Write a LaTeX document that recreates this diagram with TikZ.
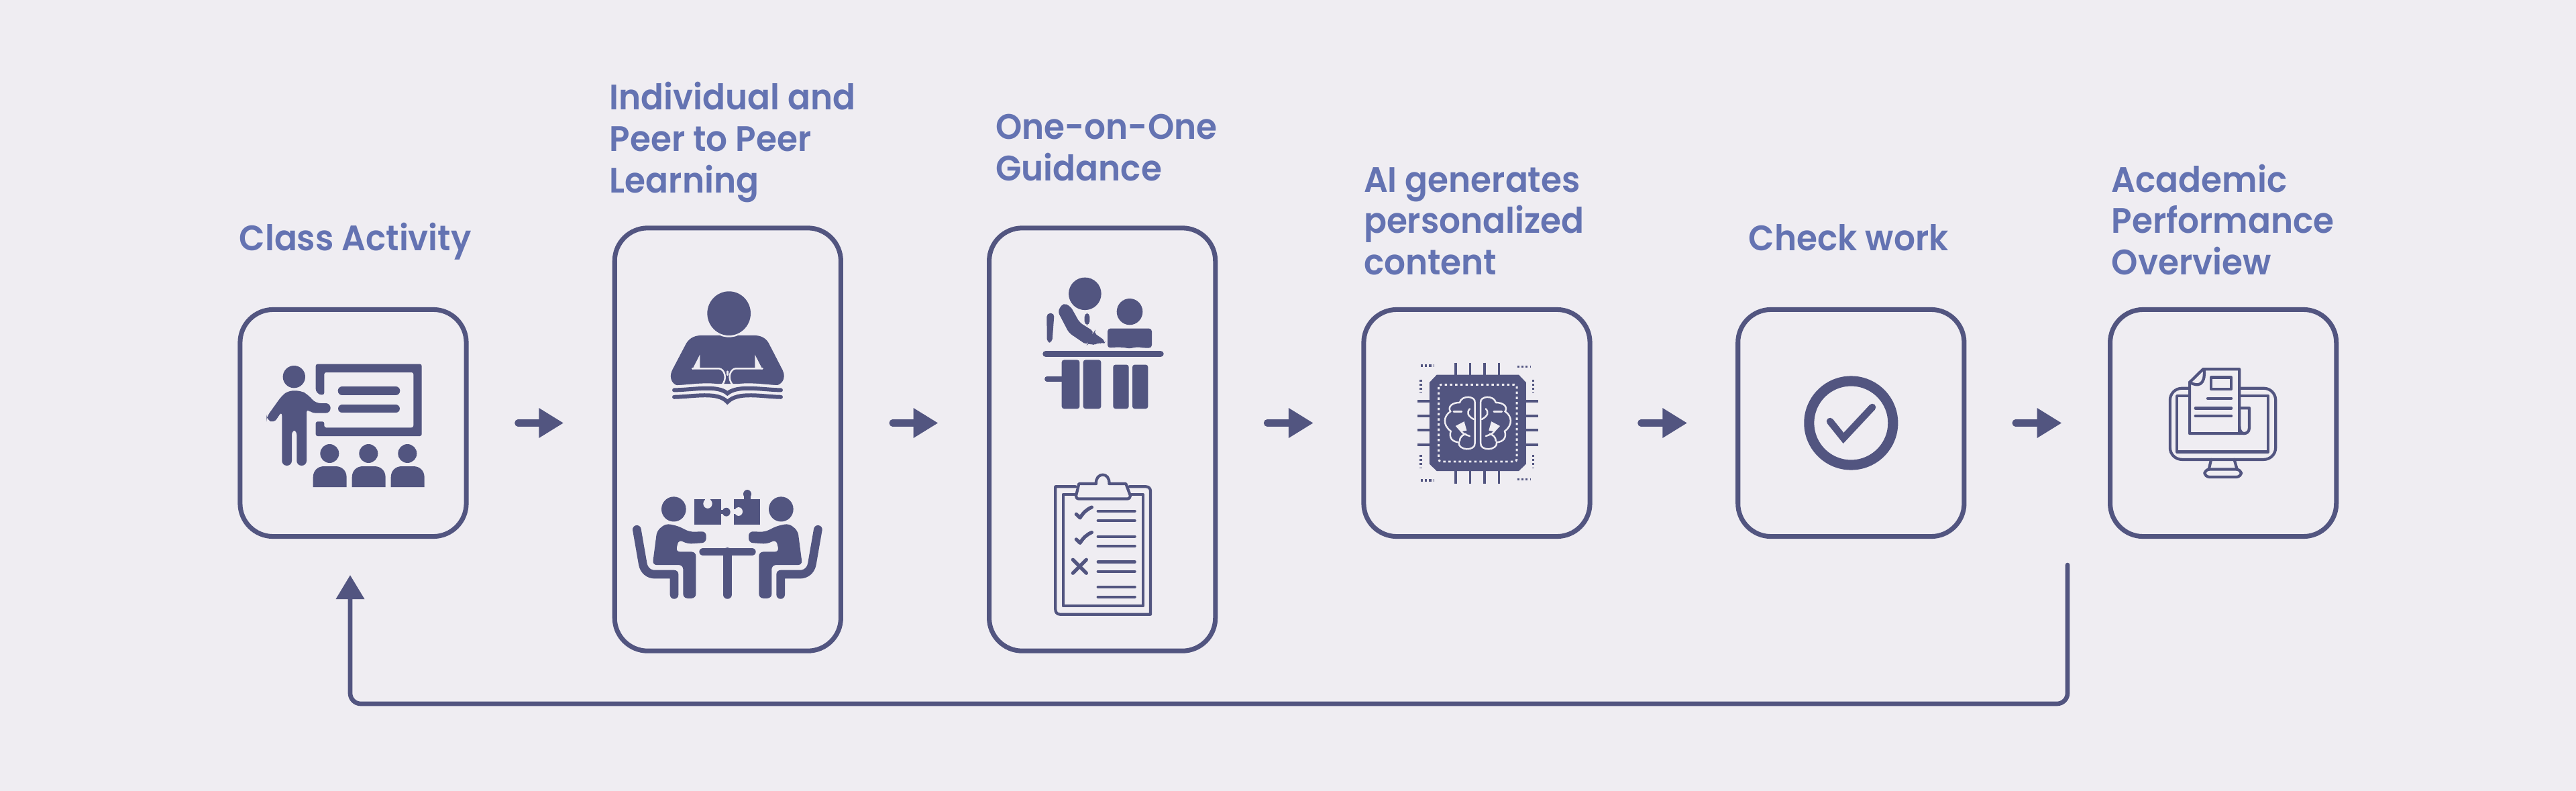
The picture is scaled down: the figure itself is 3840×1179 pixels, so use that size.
\documentclass[tikz,border=0pt]{standalone}
\usepackage{fontspec}
\setmainfont{Poppins}[UprightFont=* SemiBold, FakeStretch=0.95]
\usetikzlibrary{arrows.meta, positioning}
\definecolor{pagebg}{RGB}{239,237,242}
\definecolor{inkdark}{RGB}{82,85,128}
\definecolor{inktext}{RGB}{100,115,178}

\begin{document}
\begin{tikzpicture}[x=0.01cm, y=-0.01cm, node distance=5.58cm, >=Stealth,
    box/.style={rectangle, draw=inkdark, line width=2pt, rounded corners=14pt, minimum width=3.37cm, minimum height=3.38cm},
    tallbox/.style={box, minimum height=6.3cm},
    lbl/.style={anchor=base west, inner sep=0pt, align=left, text=inktext, font=\fontsize{15}{17.6}\selectfont},
    arrow/.style={-{Triangle[length=10.5pt, width=12pt]}, draw=inkdark, line width=2.85pt, line cap=round},
    backarrow/.style={-{Triangle[length=10.2pt, width=11.7pt]}, draw=inkdark, line width=1.9pt, line cap=round, rounded corners=4.5pt},
    solid ink/.style={fill=inkdark, draw=none},
    thin ink/.style={draw=inkdark, line width=1.2pt, line cap=round, line join=round},
    cut/.style={draw=pagebg, line width=0.7pt, line cap=round}]
  \fill[pagebg] (0,0) rectangle (3840,1179);

  % boxes
  \node[box] (cls) at (526.5,630.5) {};
  \node[tallbox, right of=cls, yshift=-0.245cm] (peer) {};
  \node[tallbox, right of=peer] (guide) {};
  \node[box, right of=guide, yshift=0.245cm] (ai) {};
  \node[box, right of=ai, xshift=-0.005cm] (chk) {};
  \node[box, right of=chk, xshift=-0.035cm] (perf) {};

  % labels
  \node[lbl] (lcls) at ([xshift=0.015cm, yshift=0.84cm]cls.north west) {Class Activity};
  \node[lbl] (lpeer) at ([xshift=-0.045cm, yshift=0.485cm]peer.north west) {Individual and\\Peer to Peer\\Learning};
  \node[lbl] (lguide) at ([xshift=0.125cm, yshift=0.665cm]guide.north west) {One-on-One\\Guidance};
  \node[lbl] (lai) at ([xshift=0.03cm, yshift=0.48cm]ai.north west) {AI generates\\personalized\\content};
  \node[lbl] (lchk) at ([xshift=0.19cm, yshift=0.84cm]chk.north west) {Check work};
  \node[lbl] (lperf) at ([xshift=0.05cm, yshift=0.48cm]perf.north west) {Academic\\Performance\\Overview};

  % connectors
  \draw[arrow, shorten <=0.735cm, shorten >=0.725cm] (cls.east) -- (cls.east -| peer.west);
  \draw[arrow, shorten <=0.735cm, shorten >=0.725cm] (peer.east |- cls.east) -- (guide.west |- cls.east);
  \draw[arrow, shorten <=0.735cm, shorten >=0.715cm] (guide.east |- cls.east) -- (ai.west);
  \draw[arrow, shorten <=0.725cm, shorten >=0.72cm] (ai.east) -- (chk.west);
  \draw[arrow, shorten <=0.73cm, shorten >=0.685cm] (chk.east) -- (perf.west);
  \coordinate (backstart) at (3082,842);
  \coordinate (backturn) at (3082,1049);
  \draw[backarrow, shorten >=0.54cm] (backstart) -- (backturn) -| ([xshift=-0.045cm]cls.south);

  % class icon
  \begin{scope}[shift={(320,420)}, scale=1/3]
    \fill[solid ink] (355,425) circle (50);
    \fill[solid ink, rounded corners=2pt] (232,605) -- (300,510) -- (330,487) -- (385,487) -- (415,503) -- (452,543) -- (518,543) -- (518,587) -- (430,587) -- (411,565) -- (411,822) -- (367,822) -- (367,662) -- (345,662) -- (345,822) -- (301,822) -- (301,578) -- (265,632) -- (232,615) -- cycle;
    \fill[solid ink, rounded corners=0.8pt] (452,368) -- (926,368) -- (926,690) -- (452,690) -- (452,625) -- (490,625) -- (490,652) -- (889,652) -- (889,405) -- (490,405) -- (490,505) -- (468,505) -- (452,488) -- cycle;
    \draw[inkdark, line width=3.6pt, line cap=round] (570,488) -- (810,488);
    \draw[inkdark, line width=3.4pt, line cap=round] (570,568) -- (810,568);
    \foreach \sx in {0,174,348} {
      \fill[solid ink] (514+\sx,768) circle (42);
      \fill[solid ink] (440+\sx,918) -- (440+\sx,875) .. controls (440+\sx,845) and (460+\sx,825) .. (490+\sx,825) -- (540+\sx,825) .. controls (570+\sx,825) and (590+\sx,845) .. (590+\sx,875) -- (590+\sx,918) -- cycle;
    }
  \end{scope}

  % reader icon
  \begin{scope}[shift={(900,400)}, xscale=1/3, yscale=1/2.8]
    \fill[solid ink] (560,188) circle (97 and 92);
    \fill[solid ink] (430,280) -- (520,280) .. controls (540,290) and (580,290) .. (600,280) -- (680,280) .. controls (710,282) and (730,295) .. (742,320) -- (800,425) .. controls (818,460) and (795,490) .. (760,490) -- (590,482) -- (520,482) -- (340,490) .. controls (310,490) and (288,460) .. (306,425) -- (365,320) .. controls (378,295) and (400,282) .. (430,280) -- cycle;
    \fill[pagebg] (430,360) -- (430,414) -- (396,422) -- cycle;
    \fill[pagebg] (676,360) -- (676,414) -- (710,422) -- cycle;
    \draw[cut] (396,418) -- (515,418) .. controls (540,420) and (555,460) .. (528,488);
    \draw[cut] (710,418) -- (590,418) .. controls (565,420) and (550,460) .. (578,488);
    \draw[cut] (553,445) -- (553,430);
    \draw[cut, line width=1pt] (310,494) .. controls (400,490) and (510,470) .. (553,505) .. controls (600,470) and (710,490) .. (795,494);
    \draw[inkdark, line width=1.7pt, line cap=round] (315,508) .. controls (400,507) and (510,485) .. (553,522) .. controls (600,485) and (710,507) .. (792,508);
    \draw[inkdark, line width=1.7pt, line cap=round] (315,537) .. controls (400,536) and (510,512) .. (553,558) .. controls (600,512) and (710,536) .. (792,537);
  \end{scope}

  % team icon
  \begin{scope}[shift={(900,400)}, xscale=1/3, yscale=1/2.8]
    \fill[solid ink] (405,962) rectangle (524,1070);
    \fill[pagebg] (465,982) circle (20 and 20);
    \fill[pagebg] (452,958) rectangle (478,975);
    \fill[solid ink] (548,1017) circle (18);
    \fill[solid ink] (520,1008) rectangle (540,1026);
    \fill[solid ink] (583,962) rectangle (700,1070);
    \fill[solid ink] (642,942) circle (18);
    \fill[solid ink] (628,950) rectangle (656,962);
    \fill[pagebg] (603,1015) circle (18);
    \fill[pagebg] (580,1006) rectangle (595,1024);
    \draw[inkdark, line width=3.4pt, line cap=round] (445,1183) -- (662,1183);
    \draw[inkdark, line width=3.6pt, line cap=round] (553,1183) -- (553,1362);
    \foreach \fl in {1,-1} {
      \begin{scope}[shift={(553,0)}, xscale=\fl]
        \fill[solid ink] (-240,1005) circle (55 and 52);
        \fill[solid ink, rounded corners=1.8pt] (-315,1095) -- (-275,1065) -- (-222,1075) -- (-168,1100) -- (-95,1098) -- (-95,1145) -- (-178,1150) -- (-218,1132) -- (-231,1183) -- (-141,1183) -- (-141,1377) -- (-198,1377) -- (-198,1238) -- (-335,1238) -- cycle;
        \draw[inkdark, line width=3.6pt, line cap=round, line join=round] (-405,1090) -- (-378,1235) .. controls (-372,1262) and (-350,1277) .. (-325,1277) -- (-238,1277) -- (-238,1362);
      \end{scope}
    }
  \end{scope}

  % tutor icon
  \begin{scope}[shift={(1460,380)}, xscale=1/3, yscale=1/2.8]
    \fill[solid ink] (472,162) circle (73 and 68);
    \fill[solid ink] (672,237) circle (58 and 55);
    \fill[solid ink, rounded corners=1.5pt] (350,235) -- (375,200) -- (408,215) -- (448,282) -- (513,320) -- (510,324) -- (565,360) -- (555,373) -- (530,365) -- (510,380) -- (487,365) -- (480,376) -- (400,325) -- cycle;
    \fill[solid ink, rounded corners=1.5pt] (301,243) -- (335,243) -- (325,366) -- (302,366) -- cycle;
    \fill[solid ink, rounded corners=1.5pt] (470,243) rectangle (493,292);
    \fill[solid ink, rounded corners=1.2pt] (573,307) -- (771,307) -- (771,388) -- (730,388) .. controls (710,384) and (690,386) .. (670,392) .. controls (650,386) and (620,384) .. (573,388) -- cycle;
    \draw[inkdark, line width=2.7pt, line cap=round] (297,413) -- (810,413);
    \draw[inkdark, line width=2pt, line cap=round] (302,518) -- (370,518);
    \fill[solid ink, rounded corners=1pt] (368,438) rectangle (448,642);
    \fill[solid ink, rounded corners=1pt] (464,438) rectangle (544,642);
    \fill[solid ink, rounded corners=1pt] (598,458) rectangle (668,642);
    \fill[solid ink, rounded corners=1pt] (684,458) rectangle (754,642);
  \end{scope}

  % clipboard icon
  \begin{scope}[shift={(1460,380)}, xscale=1/3, yscale=1/2.8, every path/.style={thin ink}]
    \draw (430,967) -- (340,967) -- (340,1480) .. controls (340,1492) and (348,1500) .. (360,1500) -- (765,1500) -- (765,985) .. controls (765,975) and (757,967) .. (745,967) -- (670,967);
    \draw (428,1000) -- (374,1000) -- (374,1465) -- (732,1465) -- (732,1000) -- (678,1000);
    \draw (432,1005) -- (445,955) -- (522,955) .. controls (518,905) and (585,905) .. (580,955) -- (655,955) -- (675,1005) .. controls (675,1012) and (670,1018) .. (660,1018) -- (445,1018) .. controls (435,1018) and (432,1012) .. (432,1005) -- cycle;
    \foreach \ly in {1069,1109,1175,1215,1281,1321,1386,1427} {
      \draw (530,\ly) -- (695,\ly);
    }
    \foreach \cy in {0,105} {
      \draw[line width=1.5pt] (433,1082+\cy) -- (450,1097+\cy) .. controls (465,1075+\cy) and (480,1062+\cy) .. (502,1053+\cy);
    }
    \draw[line width=1.5pt] (418,1272) -- (478,1328);
    \draw[line width=1.5pt] (478,1272) -- (418,1328);
  \end{scope}

  % chip icon
  \begin{scope}[shift={(2020,450)}, xscale=1/1.668, yscale=1/3]
    \fill[solid ink] (203,326) -- (407,326) -- (425,360) -- (425,725) -- (407,756) -- (203,756) -- (185,725) -- (185,360) -- cycle;
    \draw[pagebg, line width=0.85pt, dash pattern=on 1pt off 1.2pt, rounded corners=1pt] (208,370) rectangle (402,714);
    \foreach \px in {250,286,322,358} {
      \draw[inkdark, line width=1pt] (\px,272) -- (\px,326);
      \draw[inkdark, line width=1pt] (\px,756) -- (\px,812);
    }
    \foreach \py in {445,510,574,638} {
      \draw[inkdark, line width=1.2pt] (155,\py) -- (185,\py);
      \draw[inkdark, line width=1.2pt] (425,\py) -- (455,\py);
    }
    \foreach \dx/\dy in {163/285,403/290,163/798,403/793} {
      \draw[inkdark, line width=1pt, dash pattern=on 0.9pt off 0.9pt] (\dx,\dy) -- (\dx+33,\dy);
    }
    \foreach \dx/\dy in {163/347,443/347,163/683,443/683} {
      \draw[inkdark, line width=1pt, dash pattern=on 0.9pt off 0.9pt] (\dx,\dy) -- (\dx,\dy+58);
    }
    \foreach \fl in {1,-1} {
      \begin{scope}[shift={(305,0)}, xscale=\fl, every path/.append style={cut}]
        \draw (-7,450) .. controls (-5,420) and (-40,415) .. (-45,450) .. controls (-65,450) and (-75,470) .. (-68,490) .. controls (-85,510) and (-88,550) .. (-67,578) .. controls (-72,605) and (-65,625) .. (-47,628) .. controls (-50,665) and (-5,670) .. (-7,630) -- cycle;
        \draw (-60,490) -- (-40,490);
        \draw (-20,478) .. controls (-28,495) and (-25,510) .. (-10,525);
        \fill[pagebg] (-52,556) -- (-35,540) -- (-30,572) -- (-42,576) -- cycle;
        \draw (-42,576) .. controls (-38,590) and (-28,595) .. (-20,600);
        \draw (-45,622) .. controls (-45,605) and (-38,595) .. (-30,590);
      \end{scope}
    }
  \end{scope}

  % check icon
  \draw[draw=inkdark, line width=4.3pt] (chk.center) circle (62.5);
  \coordinate (ticka) at (2728,628);
  \coordinate (tickb) at (2748,653);
  \coordinate (tickc) at (2791,607);
  \draw[inkdark, line width=3pt, line cap=round] (ticka) -- (tickb) -- (tickc);

  % report icon
  \begin{scope}[shift={(2980,440)}, xscale=1/2.904, yscale=1/2.45, every path/.style={thin ink}]
    \draw[rounded corners=5pt] (740,340) rectangle (1197,600);
    \draw (770,368) rectangle (1165,572);
    \draw (918,600) -- (908,636);
    \draw (1018,600) -- (1030,636);
    \draw[rounded corners=2pt] (890,636) rectangle (1048,664);
    \draw[fill=pagebg] (825,318) -- (883,270) -- (1040,270) -- (1040,505) -- (825,505) -- cycle;
    \draw (825,318) .. controls (860,335) and (892,330) .. (888,275);
    \draw (918,300) rectangle (1005,343);
    \draw (903,377) -- (1005,377);
    \draw (850,413) -- (1005,413);
    \draw (850,441) -- (1005,441);
    \draw (1040,412) -- (1083,412) -- (1083,485) .. controls (1083,500) and (1070,505) .. (1060,505) -- (1040,505);
    \draw (1040,480) .. controls (1040,495) and (1050,505) .. (1060,505);
  \end{scope}
\end{tikzpicture}
\end{document}
